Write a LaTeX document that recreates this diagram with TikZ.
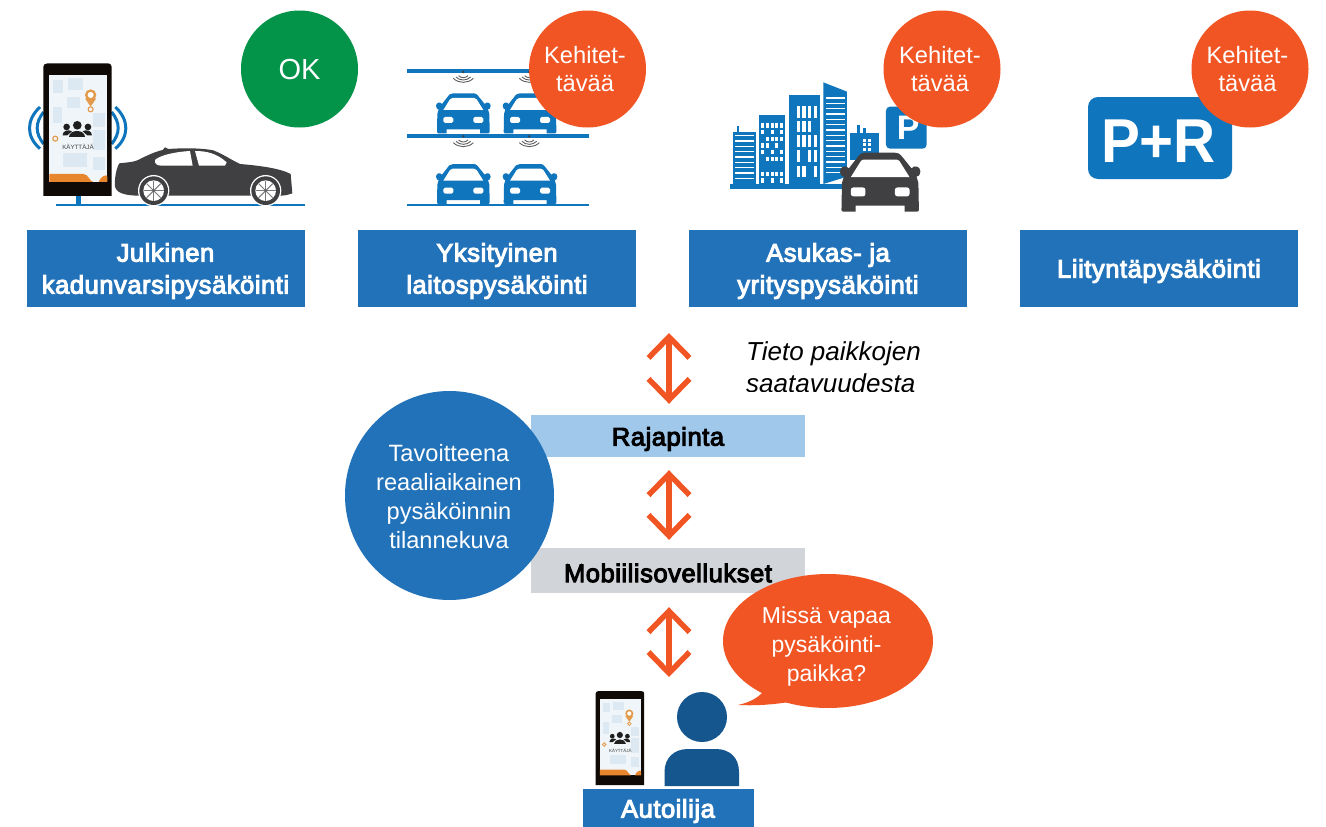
\documentclass[tikz,border=0pt]{standalone}
\usepackage{fontspec}
\setmainfont{Liberation Sans}
\newfontface\medfont[FakeBold=4,LetterSpace=2.2]{Liberation Sans}
\usetikzlibrary{arrows.meta,shapes.geometric,calc}
\definecolor{boxblue}{HTML}{2272B9}
\definecolor{iconblue}{HTML}{0F75BC}
\definecolor{okgreen}{HTML}{039349}
\definecolor{alert}{HTML}{F15524}
\definecolor{lightblue}{HTML}{A0C8EA}
\definecolor{lightgrey}{HTML}{D1D5DA}
\definecolor{person}{HTML}{14568D}
\definecolor{darkcar}{HTML}{404042}
\definecolor{mapblock}{HTML}{DCE9F3}
\definecolor{mapbg}{HTML}{F0F5F9}
\definecolor{pinorange}{HTML}{E39A4A}
\definecolor{footer}{HTML}{E8862E}
\tikzset{
  catbox/.style={fill=boxblue,text=white,font=\fontsize{25.5}{32}\medfont,align=center,minimum width=278pt,minimum height=77pt,inner sep=0pt},
  statuscircle/.style={circle,fill=#1,text=white,font=\fontsize{23.7}{28}\selectfont,align=center,minimum size=117pt,inner sep=0pt},
  statustext/.style={text=white,font=\fontsize{23.7}{28}\selectfont,align=center,inner sep=0pt},
  databar/.style={font=\fontsize{25.5}{26}\medfont,text=black,minimum width=274pt,inner sep=0pt},
  dblarrow/.style={draw=alert,line width=5.5pt,{Straight Barb[length=21pt,width=41pt,line width=5.5pt]}-{Straight Barb[length=21pt,width=41pt,line width=5.5pt]}},
  wave/.style={draw=iconblue,line width=3pt},
  sensor/.style={draw=darkcar!85,line width=0.9pt}
}
% front view of a car; local units are 1/3 px, 164 wide and 120 high
\newcommand{\carfront}[4]{%
\begin{scope}[shift={(#1,#2)},x=#3/3*1pt,y=-#3/3*1pt]
 \fill[#4] (40,4) .. controls (44,0) and (48,0) .. (52,0) -- (112,0) .. controls (118,0) and (122,2) .. (125,6)
  -- (146,32) .. controls (152,24) and (164,28) .. (164,38) .. controls (164,46) and (158,50) .. (156,48)
  -- (160,62) -- (161,116) .. controls (161,119) and (160,120) .. (158,120) -- (132,120) -- (132,108) -- (32,108) -- (32,120)
  -- (6,120) .. controls (4,120) and (3,119) .. (3,116) -- (4,62) -- (8,48) .. controls (6,50) and (0,46) .. (0,38) .. controls (0,28) and (12,24) .. (18,32) -- cycle;
 \fill[white] (22,50) -- (42,18) .. controls (44,15) and (46,14) .. (50,14) -- (114,14) .. controls (118,14) and (120,15) .. (122,18) -- (142,50) -- cycle;
 \fill[white,rounded corners=5*#3/3*1pt] (22,71) rectangle (52,89);
 \fill[white,rounded corners=5*#3/3*1pt] (112,71) rectangle (142,89);
\end{scope}}
% phone; local units are 1/3 px of the first phone, origin at its top left corner
\newcommand{\phone}[3]{%
\begin{scope}[shift={(#1,#2)},x=#3/3*1pt,y=-#3/3*1pt]
 \fill[black!92!brown] (0,10) .. controls (0,4) and (6,0) .. (14,0) -- (190,0) .. controls (200,0) and (205,4) .. (205,10) -- (205,398) -- (0,398) -- cycle;
 \fill[mapbg] (18,34) rectangle (192,356);
 \foreach \bx/\by/\bw/\bh in {30/50/30/40,75/45/45/35,30/130/25/50,150/150/35/40,70/100/40/35,150/200/35/60,60/270/70/40,150/280/35/40}
   \fill[mapblock] (\bx,\by) rectangle +(\bw,\bh);
 \fill[pinorange] (125,105) -- (142,130) -- (159,105) -- cycle;
 \fill[pinorange] (142,95) circle (17);
 \fill[white] (142,95) circle (9);
 \draw[pinorange,line width=#3*1.1pt] (142,138) circle (7.5);
 \draw[pinorange,line width=#3*1.1pt] (36,226) circle (7.5);
 \fill[black!88] (102,186) circle (13) (70,191) circle (10) (134,191) circle (10);
 \fill[black!88] (78,222) .. controls (78,198) and (126,198) .. (126,222) -- cycle;
 \fill[black!88] (58,216) .. controls (58,201) and (76,198) .. (86,204) -- (72,216) -- cycle;
 \fill[black!88] (146,216) .. controls (146,201) and (128,198) .. (118,204) -- (132,216) -- cycle;
 \node[inner sep=0pt,text=black!75,font=\fontsize{6.2}{7}\selectfont,scale=#3] at (104,251) {KÄYTTÄJÄ};
 \fill[footer] (18,356) -- (18,332) -- (120,332) .. controls (135,332) and (140,356) .. (150,356) -- cycle;
 \fill[footer] (166,356) .. controls (170,340) and (192,330) .. (192,340) -- (192,356) -- cycle;
\end{scope}}
\newcommand{\wheel}[2]{%
 \fill[white] (#1,#2) circle (47);
 \fill[darkcar] (#1,#2) circle (43);
 \fill[white] (#1,#2) circle (31);
 \foreach \a in {0,45,...,315} \draw[darkcar!70,line width=1pt] (#1,#2) -- +(\a:30);
 \fill[darkcar!80] (#1,#2) circle (5);}
\newcommand{\sensorwave}[2]{%
 \fill[darkcar] (#1,#2) circle (4);
 \draw[sensor] (#1-14,#2+11) .. controls (#1-6,#2+19) and (#1+6,#2+19) .. (#1+14,#2+11);
 \draw[sensor] (#1-22,#2+15) .. controls (#1-10,#2+27) and (#1+10,#2+27) .. (#1+22,#2+15);
 \draw[sensor] (#1-30,#2+19) .. controls (#1-14,#2+35) and (#1+14,#2+35) .. (#1+30,#2+19);
}
\begin{document}
\begin{tikzpicture}[x=1pt,y=-1pt]
\useasboundingbox (0,0) rectangle (1326,827);
\fill[white] (0,0) rectangle (1326,827);

% ---- first icon: phone, waves and sedan
\begin{scope}[x=1/3*1pt,y=-1/3*1pt]
 \draw[iconblue,line width=2pt] (167,614) -- (914,614);
 \draw[iconblue,line width=5pt] (235,585) -- (235,614);
 \draw[wave] (120,321) .. controls (78,360) and (78,410) .. (120,446);
 \draw[wave] (131,336) .. controls (105,368) and (105,400) .. (131,432);
 \draw[wave] (346,321) .. controls (388,360) and (388,410) .. (346,446);
 \draw[wave] (335,336) .. controls (361,368) and (361,400) .. (335,432);
 \fill[darkcar] (345,540) .. controls (347,515) and (352,500) .. (358,490) .. controls (385,487) and (400,486) .. (412,481)
   .. controls (440,467) and (465,455) .. (488,450) -- (495,442) -- (505,447) .. controls (560,443) and (610,445) .. (640,451)
   .. controls (670,463) and (695,480) .. (720,492) .. controls (780,497) and (840,505) .. (872,522)
   -- (877,580) .. controls (860,586) and (850,587) .. (840,587) -- (420,587) .. controls (395,587) and (350,585) .. (345,560) -- cycle;
 \fill[white] (465,480) .. controls (480,465) and (530,455) .. (570,453) -- (578,497) -- (485,497) .. controls (470,497) and (463,490) .. (465,480) -- cycle;
 \fill[white] (585,453) .. controls (620,453) and (650,460) .. (680,487) -- (675,497) -- (597,497) -- cycle;
 \wheel{461}{572}
 \wheel{797}{572}
\end{scope}
\phone{43.3}{63.3}{1}

% ---- second icon: garage
\begin{scope}[x=1/3*1pt,y=-1/3*1pt,shift={(1170,0)}]
 \fill[iconblue] (52,207) rectangle (596,220);
 \fill[iconblue] (52,401) rectangle (596,415);
 \draw[iconblue,line width=1.3pt] (52,615) -- (596,615);
 \foreach \sx in {220,418} {\sensorwave{\sx}{216}\sensorwave{\sx}{409}}
\end{scope}
\carfront{436}{93.3}{1}{iconblue}
\carfront{502.7}{93.3}{1}{iconblue}
\carfront{436}{164}{1}{iconblue}
\carfront{502.7}{164}{1}{iconblue}

% ---- third icon: city blocks
\begin{scope}[x=1/3*1pt,y=-1/3*1pt,shift={(2100,0)}]
 \fill[iconblue] (90,552) rectangle (430,566);
 \fill[iconblue] (98,397) rectangle (168,552);
 \fill[iconblue] (110,378) rectangle (118,397);
 \foreach \sy in {405,421,...,533} \fill[white] (105,\sy) rectangle (162,\sy+4);
 \fill[iconblue] (178,345) rectangle (254,552);
 \foreach \wx/\wy in {183/370,198/370,212/370,226/370,240/370,183/390,212/390,240/390,198/410,212/410,226/410,240/410,183/430,198/430,226/430,183/450,212/450,240/450,198/470,212/470,226/470,240/470,183/515,198/515,212/515,226/515,240/515,183/535,212/535,240/535}
   \fill[white] (\wx,\wy) rectangle +(9,13);
 \fill[iconblue] (266,285) rectangle (360,552);
 \foreach \wx/\wy in {290/318,307/318,324/318,342/318,290/362,307/362,324/362,290/406,307/406,324/406,342/406,290/450,324/450,342/450,290/497,307/497,342/497}
   \fill[white] (\wx,\wy) rectangle +(10,35);
 \fill[iconblue] (370,247) -- (441,275) -- (441,530) -- (370,552) -- cycle;
 \foreach \sy in {292,308,...,525} \fill[white] (377,\sy) rectangle (436,\sy+4);
 \fill[iconblue] (472,376) rectangle (480,400);
 \fill[iconblue] (488,385) rectangle (498,400);
 \fill[iconblue] (450,400) rectangle (538,480);
 \foreach \wx in {490,505} \foreach \wy in {417,430,443} \fill[white] (\wx,\wy) rectangle +(9,9);
 \fill[iconblue,rounded corners=4pt] (558,320) rectangle (680,446);
 \node[text=white,inner sep=0pt,font=\fontsize{34}{34}\selectfont\bfseries] (psign) at (625,383) {P};
\end{scope}
\carfront{840}{152.7}{1.47}{darkcar}

% ---- fourth icon: P+R sign
\fill[iconblue,rounded corners=10pt] (1088,97) rectangle (1232,179);
\node[text=white,inner sep=0pt,xscale=.94,font=\fontsize{62}{62}\selectfont\bfseries] (pr) at (1158.5,141) {P+R};

% ---- status circles
\node[statuscircle=okgreen] (ok) at (299.5,69) {};
\node[text=white,inner sep=0pt,font=\fontsize{29}{34}\selectfont] (oktext) at (299.5,70) {OK};
\node[statuscircle=alert] (dev1) at (587.5,69) {};
\node[statuscircle=alert] (dev2) at (942,69) {};
\node[statuscircle=alert] (dev3) at (1250,69) {};
\node[statustext] (devtext1) at (585,69.5) {Kehitet-\\tävää};
\node[statustext] (devtext2) at (940,69.5) {Kehitet-\\tävää};
\node[statustext] (devtext3) at (1247.5,69.5) {Kehitet-\\tävää};

% ---- category boxes
\node[catbox] (public) at (165.5,268.5) {};
\node[catbox] (private) at (497,268.5) {};
\node[catbox] (resident) at (828,268.5) {};
\node[catbox] (parkride) at (1159,268.5) {};
\node[catbox,fill=none] (publictext) at (165.5,271) {Julkinen\\kadunvarsipysäköinti};
\node[catbox,fill=none] (privatetext) at (497,271) {Yksityinen\\laitospysäköinti};
\node[catbox,fill=none] (residenttext) at (828,271) {Asukas- ja\\yrityspysäköinti};
\node[catbox,fill=none] (parkridetext) at (1159,271) {Liityntäpysäköinti};

% ---- central stack
\node[fill=lightblue,minimum width=274pt,minimum height=42pt,inner sep=0pt] (api) at (668,436) {};
\node[databar] (apitext) at (668,439) {Rajapinta};
\node[fill=lightgrey,minimum width=274pt,minimum height=45pt,inner sep=0pt] (apps) at (668,570.5) {};
\node[databar] (appstext) at (668,573) {Mobiilisovellukset};
\node[circle,fill=boxblue,minimum size=209pt,inner sep=0pt] (goal) at (449.5,495.5) {};
\node[text=white,inner sep=0pt,align=center,font=\fontsize{23.6}{29}\selectfont] (goaltext) at (449,497) {Tavoitteena\\reaaliaikainen\\pysäköinnin\\tilannekuva};
\node[fill=boxblue,minimum width=171pt,minimum height=38pt,inner sep=0pt] (driver) at (668.5,808) {};
\node[text=white,font=\fontsize{25.5}{27}\medfont,inner sep=0pt] (drivertext) at (668,811) {Autoilija};
\node[inner sep=0pt,align=left,font=\fontsize{26}{32}\selectfont\itshape,anchor=west] (info) at (746,367.5) {Tieto paikkojen\\saatavuudesta};

% ---- connectors
\coordinate (toptip) at (669,333);
\coordinate (speaker) at (702,691);
\draw[dblarrow] (toptip) -- ($(api.north)+(1,-11)$);
\draw[dblarrow] ($(api.south)+(1,13)$) -- ($(apps.north)+(1,-8)$);
\draw[dblarrow] ($(apps.south)+(1,14)$) -- ($(speaker)+(-33,-14)$);

% ---- driver
\phone{595.7}{691}{0.71}
\fill[person] (702,717) circle (25);
\fill[person] (664.5,786) -- (664.5,772) .. controls (664.5,758) and (674,749) .. (688,749) -- (716,749) .. controls (730,749) and (739,758) .. (739,772) -- (739,786) -- cycle;

% ---- speech bubble
\fill[alert] (770,680) .. controls (765,695) and (752,702) .. (738,705) .. controls (760,706) and (780,704) .. (800,700) -- cycle;
\node[ellipse,fill=alert,minimum width=210pt,minimum height=134pt,inner sep=0pt] (bubble) at (828,641) {};
\node[text=white,inner sep=0pt,align=center,font=\fontsize{23}{29}\selectfont] (bubbletext) at (826.5,647) {Missä vapaa\\pysäköinti-\\paikka?};
% the reference crops the tops of the first letters of the last line and the foot of the caption
\fill[alert] (785,659) rectangle (813,667);
\fill[white] (745,392) rectangle (925,400);
\end{tikzpicture}
\end{document}
